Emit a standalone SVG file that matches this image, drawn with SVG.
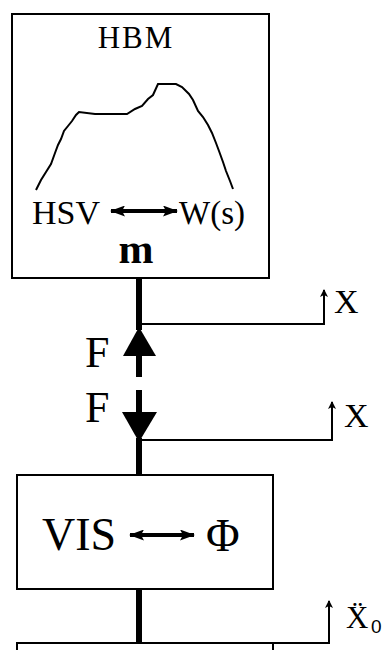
<svg xmlns="http://www.w3.org/2000/svg" width="383" height="650" viewBox="0 0 383 650">
<defs>
<marker id="dh" viewBox="0 0 15 11" refX="14" refY="5.5" markerWidth="15" markerHeight="11" markerUnits="userSpaceOnUse" orient="auto-start-reverse">
<path d="M0,0 L15,5.5 L0,11 L3,5.5 Z" fill="#000"/>
</marker>
<marker id="sh" viewBox="0 0 8 8" refX="7" refY="4" markerWidth="8" markerHeight="8" markerUnits="userSpaceOnUse" orient="auto">
<path d="M0,0 L8,4 L0,8 L2,4 Z" fill="#000"/>
</marker>
</defs>
<style>
.box{fill:#fff;stroke:#000;stroke-width:2}
.t{font-family:"Liberation Serif","Times New Roman",serif;fill:#000}
.thick{stroke:#000;stroke-width:6;fill:none}
.thin{stroke:#000;stroke-width:2;fill:none}
.dbl{stroke:#000;stroke-width:4;fill:none}
</style>
<rect width="383" height="650" fill="#fff"/>
<g id="hbm">
<rect class="box" x="12" y="14" width="257" height="264"/>
<text class="t" x="136" y="48" font-size="31" text-anchor="middle" letter-spacing="2">HBM</text>
<polyline class="thin" points="36,190 41,180 46,172 51,164 55,153 58,145 61,139 64,131 68,126 72,121 76,115 79,112 95,114 127,114 135,109 142,106 148,99 153,95 158,84 176,84 182,87 189,94 193,100 198,111 203,117 208,125 212,133 216,143 219,151 223,162 226,171 230,181 233,189"/>
<text class="t" x="32" y="224" font-size="34">HSV</text>
<line class="dbl" x1="111" y1="211" x2="177" y2="211" marker-start="url(#dh)" marker-end="url(#dh)"/>
<text class="t" x="179" y="224" font-size="33">W(s)</text>
<text class="t" x="136" y="263" font-size="42" font-weight="bold" text-anchor="middle">m</text>
</g>
<g id="vis">
<rect class="box" x="17" y="475" width="256" height="114"/>
<text class="t" x="42" y="550" font-size="46">VIS</text>
<line class="dbl" x1="130" y1="535" x2="194" y2="535" marker-start="url(#dh)" marker-end="url(#dh)"/>
<text class="t" x="206" y="551" font-size="46">Φ</text>
</g>
<g id="base">
<path class="thin" d="M17,652 L17,643 L273,643 L273,652"/>
</g>
<g id="connectors">
<line class="thick" x1="139" y1="278" x2="139" y2="330"/>
<polygon points="139,327 123,356 156,356" fill="#000"/>
<line class="thick" x1="139" y1="354" x2="139" y2="377"/>
<line class="thick" x1="139" y1="390" x2="139" y2="414"/>
<polygon points="122,412 157,412 139,442" fill="#000"/>
<line class="thick" x1="139" y1="438" x2="139" y2="475"/>
<line class="thick" x1="139" y1="589" x2="139" y2="643"/>
<polyline class="thin" points="139,324 324,324 324,290" marker-end="url(#sh)"/>
<polyline class="thin" points="139,440 332,440 332,402" marker-end="url(#sh)"/>
<polyline class="thin" points="273,643 329,643 329,601" marker-end="url(#sh)"/>
<text class="t" x="85" y="367" font-size="44">F</text>
<text class="t" x="85" y="422" font-size="44">F</text>
<text class="t" x="334" y="313" font-size="34">X</text>
<text class="t" x="344" y="427" font-size="34">X</text>
<text class="t" x="346" y="628" font-size="31">Ẍ</text>
<text x="371" y="633" font-size="19" font-family="'Liberation Sans',Arial,sans-serif">0</text>
</g>
</svg>
